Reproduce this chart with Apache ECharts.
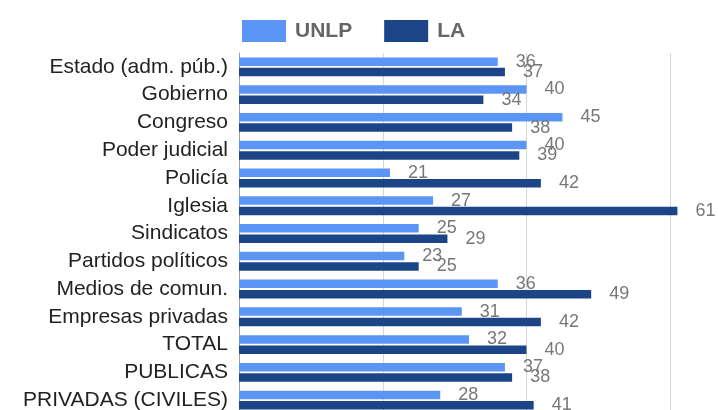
<!DOCTYPE html>
<html>
<head>
<meta charset="utf-8">
<script src="https://cdn.jsdelivr.net/npm/echarts@6/dist/echarts.min.js"></script>
<style>
  html, body { margin: 0; padding: 0; background: #fff; }
  #chart { width: 718px; height: 410px; }
</style>
</head>
<body>
<div id="chart"></div>
<script>
// instituciones
const categories = ['Estado (adm. púb.)', 'Gobierno', 'Congreso', 'Poder judicial', 'Policía', 'Iglesia', 'Sindicatos', 'Partidos políticos', 'Medios de comun.', 'Empresas privadas', 'TOTAL', 'PUBLICAS', 'PRIVADAS (CIVILES)']
const unlp = [36, 40, 45, 40, 21, 27, 25, 23, 36, 31, 32, 37, 28]
const la = [37, 34, 38, 39, 42, 61, 29, 25, 49, 42, 40, 38, 41]
const xTicks = [0, 20, 40, 60, 80]

const font = 'Liberation Sans, Arial, sans-serif'

let chart = echarts.init(document.getElementById('chart'))
chart.setOption({
  animation: false,
  legend: {
    data: ['UNLP', 'LA'],
    left: 237,
    top: 15,
    itemWidth: 44,
    itemHeight: 22,
    itemGap: 32,
    icon: 'rect',
    textStyle: {
      color: '#666',
      fontSize: 21,
      fontWeight: 'bold',
      fontFamily: font,
      padding: [0, 0, 0, 4]
    }
  },
  grid: {
    left: 239,
    top: 53,
    width: 575,
    height: 361,
    outerBoundsMode: 'none'
  },
  xAxis: {
    type: 'value',
    min: xTicks[0],
    max: xTicks[xTicks.length - 1],
    interval: 20,
    axisLabel: { show: false },
    axisLine: { show: false },
    axisTick: { show: false },
    splitLine: {
      show: true,
      lineStyle: { color: '#d6d6d6', width: 1 }
    }
  },
  yAxis: {
    type: 'category',
    inverse: true,
    data: categories,
    axisLine: {
      show: true,
      lineStyle: { color: '#a0a0a0', width: 1 }
    },
    axisTick: { show: false },
    axisLabel: {
      color: '#222',
      fontSize: 21,
      fontFamily: font,
      margin: 11,
      padding: [3, 0, 0, 0]
    }
  },
  series: [
    {
      name: 'UNLP',
      type: 'bar',
      data: unlp,
      barWidth: 8.5,
      barGap: '22%',
      itemStyle: { color: '#5b96f5' },
      label: {
        show: true,
        position: 'right',
        distance: 18,
        color: '#777',
        fontSize: 18,
        fontFamily: font
      }
    },
    {
      name: 'LA',
      type: 'bar',
      data: la,
      barWidth: 8.5,
      barGap: '22%',
      itemStyle: { color: '#1c4587' },
      label: {
        show: true,
        position: 'right',
        distance: 18,
        color: '#777',
        fontSize: 18,
        fontFamily: font
      }
    }
  ]
})
</script>
</body>
</html>
